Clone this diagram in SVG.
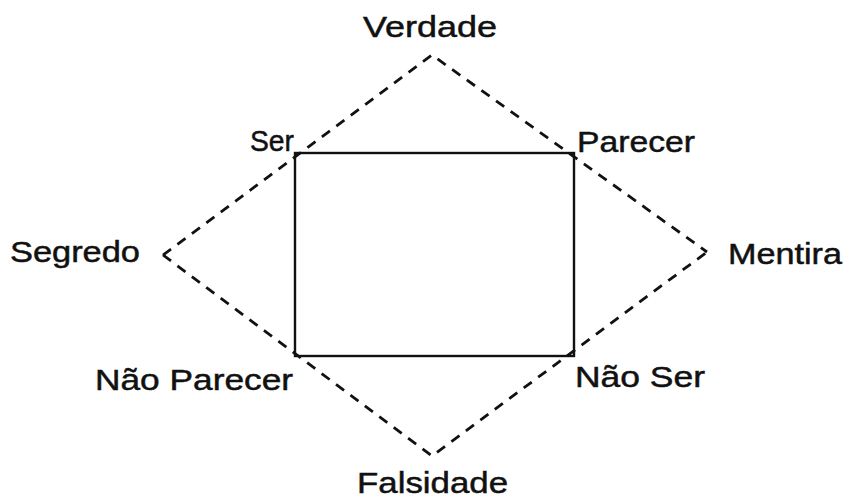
<svg xmlns="http://www.w3.org/2000/svg" width="846" height="500" viewBox="0 0 846 500">
<style>
.t{font-family:"Liberation Sans",Arial,sans-serif;font-size:30px;fill:#111;stroke:#111;stroke-width:0.5}
.d{fill:none;stroke:#111;stroke-width:2.8;stroke-dasharray:10 8}
.s{fill:none;stroke:#111;stroke-width:2.4}
</style>
<rect width="846" height="500" fill="#fff"/>
<g id="connectors">
<polyline class="d" points="163,255 432,55 707,252"/>
<polyline class="d" points="163,255 432,456 707,252"/>
<rect class="s" x="295" y="153" width="279" height="203"/>
</g>
<g id="verdade"><text class="t" x="363" y="37" textLength="134" lengthAdjust="spacingAndGlyphs">Verdade</text></g>
<g id="ser"><text class="t" x="250" y="151" textLength="44" lengthAdjust="spacingAndGlyphs">Ser</text></g>
<g id="parecer"><text class="t" x="577" y="152" textLength="118" lengthAdjust="spacingAndGlyphs">Parecer</text></g>
<g id="segredo"><text class="t" x="10" y="262" textLength="130" lengthAdjust="spacingAndGlyphs">Segredo</text></g>
<g id="mentira"><text class="t" x="728" y="264" textLength="114" lengthAdjust="spacingAndGlyphs">Mentira</text></g>
<g id="nao-parecer"><text class="t" x="95" y="390" textLength="198" lengthAdjust="spacingAndGlyphs">Não Parecer</text></g>
<g id="nao-ser"><text class="t" x="575" y="387" textLength="130" lengthAdjust="spacingAndGlyphs">Não Ser</text></g>
<g id="falsidade"><text class="t" x="357" y="493" textLength="151" lengthAdjust="spacingAndGlyphs">Falsidade</text></g>
</svg>
